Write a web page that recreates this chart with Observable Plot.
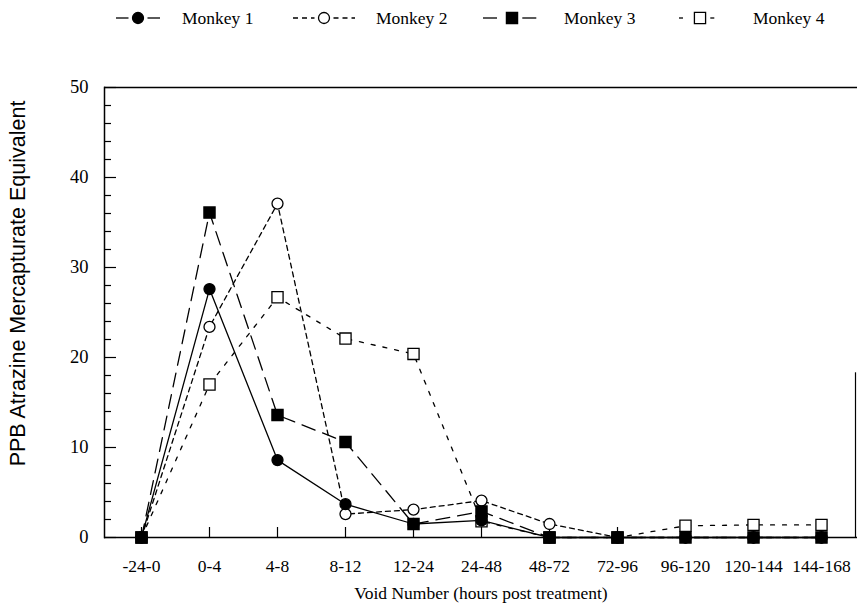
<!DOCTYPE html>
<html>
<head>
<meta charset="utf-8">
<script src="https://cdn.jsdelivr.net/npm/d3@7"></script>
<script src="https://cdn.jsdelivr.net/npm/@observablehq/plot@0.6"></script>
<style>
  html, body { margin: 0; padding: 0; background: white; }
  #legend { position: relative; width: 862px; height: 40px; font-family: "Liberation Serif", "Times New Roman", serif; font-size: 17.5px; color: black; }
  #legend .lab { position: absolute; top: 8px; line-height: 20px; white-space: nowrap; }
  #legend svg { position: absolute; left: 0; top: 0; }
</style>
</head>
<body>
<div id="legend"></div>
<div id="chart"></div>
<script>
const categories = ["-24-0", "0-4", "4-8", "8-12", "12-24", "24-48", "48-72", "72-96", "96-120", "120-144", "144-168"];
const seriesNames = ["Monkey 1", "Monkey 2", "Monkey 3", "Monkey 4"];
const monkey1 = [0, 27.6, 8.6, 3.7, 1.5, 1.9, 0, 0, 0, 0, 0];
const monkey2 = [0, 23.4, 37.1, 2.6, 3.1, 4.1, 1.5, 0, 0, 0, 0];
const monkey3 = [0, 36.1, 13.6, 10.6, 1.5, 2.9, 0, 0, 0, 0, 0];
const monkey4 = [0, 17.0, 26.7, 22.1, 20.4, 1.8, 0, 0, 1.3, 1.4, 1.4];
const yMajorTicks = [0, 10, 20, 30, 40, 50];
const yMinorTicks = [2, 4, 6, 8, 12, 14, 16, 18, 22, 24, 26, 28, 32, 34, 36, 38, 42, 44, 46, 48];
const xTitle = "Void Number (hours post treatment)";
const yTitle = "PPB Atrazine Mercapturate Equivalent";

const styles = {
  "Monkey 1": {dash: null, symbol: "circle", fill: "black", r: 5.5},
  "Monkey 2": {dash: "5,4", symbol: "circle", fill: "white", r: 5.5},
  "Monkey 3": {dash: "14,8", symbol: "square", fill: "black", r: 6.3},
  "Monkey 4": {dash: "4,8", symbol: "square", fill: "white", r: 6.3}
};

const values = [monkey1, monkey2, monkey3, monkey4];
const data = [];
seriesNames.forEach((s, i) => categories.forEach((c, j) => data.push({series: s, cat: c, v: values[i][j]})));

const serif = '"Liberation Serif", "Times New Roman", serif';
const sans = '"Liberation Sans", Arial, sans-serif';

const lineMarks = seriesNames.map(s => Plot.line(data.filter(d => d.series === s), {
  x: "cat", y: "v", stroke: "black", strokeWidth: 1.3,
  strokeDasharray: styles[s].dash || undefined
}));
const dotOrder = ["Monkey 4", "Monkey 2", "Monkey 1", "Monkey 3"];
const dotMarks = dotOrder.map(s => Plot.dot(data.filter(d => d.series === s), {
  x: "cat", y: "v", r: styles[s].r, symbol: styles[s].symbol,
  fill: styles[s].fill, stroke: "black", strokeWidth: 1.3
}));

const chart = Plot.plot({
  width: 862,
  height: 569,
  marginTop: 47,
  marginBottom: 72,
  marginLeft: 104,
  marginRight: 5,
  style: {fontFamily: serif, fontSize: "16px", color: "black", background: "white", overflow: "visible"},
  x: {type: "point", domain: categories, padding: 0.46, label: null},
  y: {domain: [0, 50], label: null},
  marks: [
    Plot.frame({anchor: "left", stroke: "black", strokeWidth: 1.5}),
    Plot.ruleY([0], {stroke: "black", strokeWidth: 1.5}),
    Plot.ruleY([50], {stroke: "black", strokeWidth: 1.5}),
    Plot.ruleX([categories[categories.length - 1]], {x: d => d, y1: 0, y2: 18.3, dx: 34, stroke: "black", strokeWidth: 1.2}),
    Plot.axisY({ticks: yMajorTicks, tickSize: 0, tickPadding: 16, fontSize: 18.5, label: null}),
    Plot.axisY({ticks: yMajorTicks, tickSize: -12, tickFormat: () => "", label: null, strokeWidth: 1.2}),
    Plot.axisY({ticks: yMinorTicks, tickSize: -7, tickFormat: () => "", label: null, strokeWidth: 1.2}),
    Plot.axisX({tickSize: -10, tickFormat: () => "", label: null, strokeWidth: 1.2}),
    Plot.axisX({tickSize: 0, tickPadding: 22, fontSize: 17.5, label: null}),
    Plot.text([xTitle], {frameAnchor: "bottom", dy: 61, fontSize: 17.5, fontFamily: serif}),
    Plot.text([yTitle], {frameAnchor: "left", textAnchor: "middle", rotate: -90, dx: -86, dy: -29, fontSize: 21.5, fontFamily: sans}),
    ...lineMarks,
    ...dotMarks
  ]
});
document.getElementById("chart").appendChild(chart);

// Legend
const legend = d3.select("#legend");
const lsvg = legend.append("svg").attr("width", 862).attr("height", 40);
const legendItems = [
  {name: "Monkey 1", x0: 116, x1: 160, text: 182},
  {name: "Monkey 2", x0: 293, x1: 355, text: 376},
  {name: "Monkey 3", x0: 483, x1: 541, text: 564},
  {name: "Monkey 4", x0: 679, x1: 721, text: 753}
];
const ly = 18;
legendItems.forEach(it => {
  const st = styles[it.name];
  const cx = (it.x0 + it.x1) / 2;
  const gap = st.r + 4;
  [[it.x0, cx - gap], [cx + gap, it.x1]].forEach(([a, b]) => {
    const ln = lsvg.append("line").attr("x1", a).attr("x2", b).attr("y1", ly).attr("y2", ly)
      .attr("stroke", "black").attr("stroke-width", 1.3);
    if (st.dash) ln.attr("stroke-dasharray", st.dash);
  });
  const sym = st.symbol === "circle" ? d3.symbolCircle : d3.symbolSquare;
  lsvg.append("path").attr("d", d3.symbol(sym, Math.PI * st.r * st.r)())
    .attr("transform", `translate(${cx},${ly})`)
    .attr("fill", st.fill).attr("stroke", "black").attr("stroke-width", 1.3);
  legend.append("div").attr("class", "lab").style("left", it.text + "px").text(it.name);
});
</script>
</body>
</html>
